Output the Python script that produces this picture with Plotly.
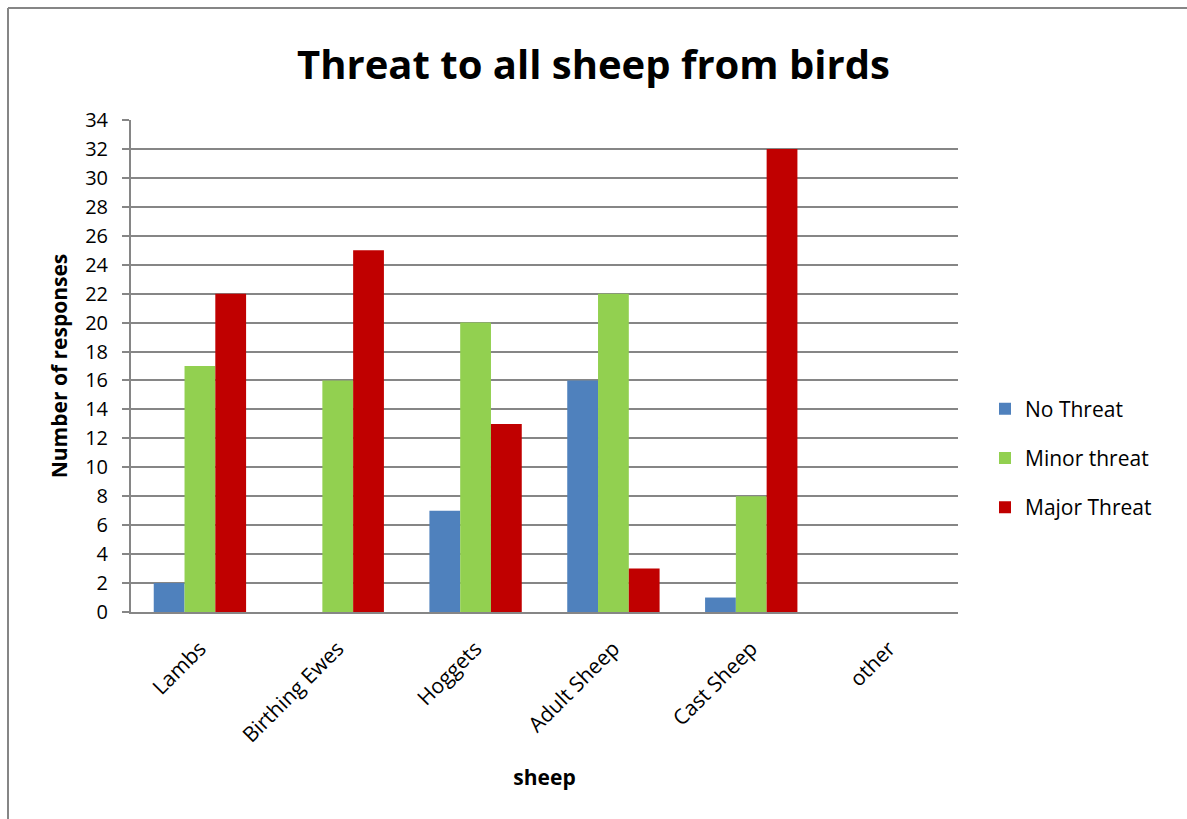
import plotly.graph_objects as go

categories = ["Lambs", "Birthing Ewes", "Hoggets", "Adult Sheep", "Cast Sheep", "other"]
series_names = ["No Threat", "Minor threat", "Major Threat"]
no_threat = [2, 0, 7, 16, 1, 0]
minor_threat = [17, 16, 20, 22, 8, 0]
major_threat = [22, 25, 13, 3, 32, 0]
y_ticks = list(range(0, 35, 2))

colors = ["#4F81BD", "#92D050", "#C00000"]
FONT = "Open Sans"

W, H = 1187, 819
L, R, T, B = 131, 229, 120, 207
pw, ph = W - L - R, H - T - B

fig = go.Figure()
for i, (name, vals) in enumerate(zip(series_names, [no_threat, minor_threat, major_threat])):
    fig.add_trace(go.Bar(
        x=categories, y=vals, name=name, legendgroup=name,
        marker=dict(color=colors[i], line=dict(width=0)),
    ))

def px2x(p):
    return (p - L) / pw

def px2y(p):
    return (H - B - p) / ph

fig.update_layout(
    width=W, height=H,
    margin=dict(l=L, r=R, t=T, b=B, autoexpand=False),
    paper_bgcolor="white", plot_bgcolor="white",
    barmode="group", bargap=0.33, bargroupgap=0,
    font=dict(family=FONT, color="black"),
    title=dict(text="<b>Threat to all sheep from birds</b>",
               x=0.5, xref="container", xanchor="center",
               y=1 - 65 / H, yanchor="middle",
               font=dict(size=40, family=FONT, color="black")),
    showlegend=True,
    legend=dict(x=px2x(985), xanchor="left", y=px2y(458), yanchor="middle",
                font=dict(size=21, family=FONT), tracegroupgap=19,
                bgcolor="rgba(0,0,0,0)", itemwidth=30),
    xaxis=dict(
        type="category", tickangle=-45, tickfont=dict(size=21, family=FONT),
        showline=True, linecolor="#868686", linewidth=2,
        ticks="", showgrid=False, ticklabelstandoff=14,
        title=dict(text="<b>sheep</b>", font=dict(size=21, family=FONT), standoff=23),
    ),
    yaxis=dict(
        range=[0, 34], tickvals=y_ticks, ticktext=[str(v) for v in y_ticks],
        tickfont=dict(size=20, family=FONT),
        showline=True, linecolor="#868686", linewidth=2,
        ticks="outside", ticklen=7, tickcolor="#868686", tickwidth=2,
        ticklabelstandoff=10,
        showgrid=True, gridcolor="#868686", gridwidth=1.5,
        zeroline=False,
        title=dict(text="<b>Number of responses</b>", font=dict(size=21, family=FONT), standoff=12),
    ),
    shapes=[
        dict(type="line", xref="paper", yref="paper",
             x0=px2x(8), x1=px2x(W + 5), y0=px2y(8), y1=px2y(8),
             line=dict(color="#868686", width=2)),
        dict(type="line", xref="paper", yref="paper",
             x0=px2x(8), x1=px2x(8), y0=px2y(8), y1=px2y(H + 5),
             line=dict(color="#868686", width=2)),
    ],
)

fig.write_html("out.html")
